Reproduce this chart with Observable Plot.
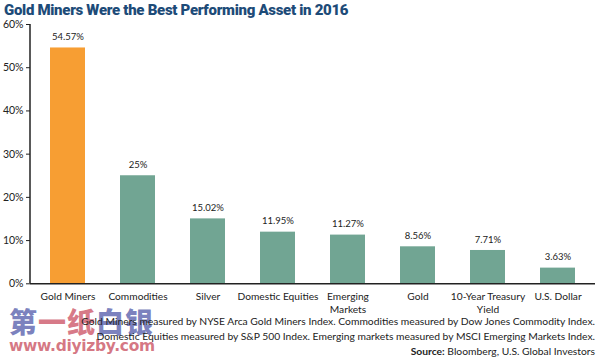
<!DOCTYPE html>
<html><head><meta charset="utf-8">
<script src="https://cdn.jsdelivr.net/npm/d3@7"></script>
<script src="https://cdn.jsdelivr.net/npm/@observablehq/plot@0.6"></script>
<style>
body{margin:0;background:#fff;width:600px;height:358px;overflow:hidden;position:relative;font-family:Lato,"Open Sans",sans-serif;}
#chart{position:absolute;left:0;top:14px;}
#title{position:absolute;left:4px;top:1px;font-family:Roboto,sans-serif;font-weight:900;font-size:15px;color:#1d4b78;letter-spacing:-0.3px;}
#wm{position:absolute;left:9px;top:307px;pointer-events:none;}
#wm1{font-family:"Noto Sans CJK SC";font-weight:900;font-size:28px;line-height:29px;letter-spacing:1px;}
#wm2{font-family:"DejaVu Sans",sans-serif;font-weight:bold;font-size:15.5px;line-height:20px;color:rgba(206,96,110,0.85);letter-spacing:-0.3px;}
.b{color:rgba(100,108,178,0.85);} .r{color:rgba(208,98,114,0.85);}
#notes{position:absolute;right:5px;top:314px;text-align:right;font-size:10.3px;line-height:15px;color:#222;}
</style></head><body>
<div id="chart"></div>
<div id="title">Gold Miners Were the Best Performing Asset in 2016</div>
<div id="wm"><div id="wm1"><span class="b">第</span><span class="r">一纸</span><span class="b">白银</span></div><div id="wm2">www.diyizby.com</div></div>
<div id="notes">
<div>Gold Miners measured by NYSE Arca Gold Miners Index. Commodities measured by Dow Jones Commodity Index.</div>
<div>Domestic Equities measured by S&amp;P 500 Index. Emerging markets measured by MSCI Emerging Markets Index.</div>
<div><b>Source:</b> Bloomberg, U.S. Global Investors</div>
</div>
<script>
const categories = ["Gold Miners","Commodities","Silver","Domestic Equities","Emerging\nMarkets","Gold","10-Year Treasury\nYield","U.S. Dollar"];
const values = [54.57, 25, 15.02, 11.95, 11.27, 8.56, 7.71, 3.63];
const labels = ["54.57%","25%","15.02%","11.95%","11.27%","8.56%","7.71%","3.63%"];
const yTicks = [0,10,20,30,40,50,60];
const highlight = "Gold Miners";

const data = categories.map((c,i)=>({cat:c, v:values[i], label:labels[i]}));

const yAxisLine = (index, scales, values, dims) => {
  const x0 = dims.marginLeft;
  const l = d3.create("svg:line")
    .attr("x1", x0).attr("x2", x0)
    .attr("y1", scales.y(yTicks[0])).attr("y2", scales.y(yTicks[yTicks.length-1]))
    .attr("stroke", "#222").attr("stroke-width", 1.5);
  return l.node();
};

const plot = Plot.plot({
  width: 600,
  height: 304,
  marginTop: 10,
  marginBottom: 34.7,
  marginLeft: 30,
  marginRight: 5,
  style: {fontFamily: "Lato, 'Open Sans', sans-serif", fontSize: "10px", color: "#222", background: "transparent"},
  x: {domain: categories, paddingInner: 0.5, paddingOuter: 0.25, label: null},
  y: {domain: [0,60], label: null},
  marks: [
    Plot.axisY({ticks: yTicks, tickSize: 4, tickPadding: 3, tickFormat: d => d + "%", fontSize: 10.5}),
    Plot.axisX({tickSize: 0, tickPadding: 7, fontSize: 10.2, lineHeight: 1.3}),
    Plot.barY(data, {x: "cat", y: "v", fill: d => d.cat === highlight ? "#f79e33" : "#71a593"}),
    Plot.text(data, {x: "cat", y: "v", text: "label", dy: -11, fontSize: 9.5, fill: "#222"}),
    yAxisLine,
    Plot.ruleY([0], {stroke: "#222", strokeWidth: 1.5})
  ]
});
document.getElementById("chart").appendChild(plot);
</script>
</body></html>
